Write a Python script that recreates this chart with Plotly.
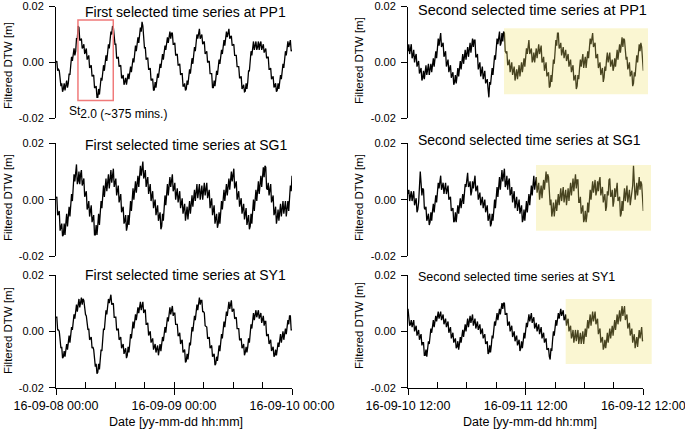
import plotly.graph_objects as go
import pandas as pd

W, H = 685, 430

# ---------------- data (filtered DTW in millimetres, one reading every 10 min) ----------------
first_start = "2016-09-08 00:00"
second_start = "2016-09-10 12:00"
sample_step = "10min"

first_pp1_mm = [
    0.0, 0.5, -3.0, -2.5, -3.0, -8.0, -8.5, -7.5, -10.5, -9.5, -7.5, -10.0,
    -8.0, -6.5, -9.0, -7.5, -4.0, -4.5, -1.0, 2.0, 0.5, 3.5, 5.0, 2.5,
    4.0, 8.5, 8.5, 13.0, 12.5, 8.0, 8.0, 8.5, 5.0, 5.5, 6.5, 3.0,
    4.0, 5.0, 1.0, 2.0, 2.5, -2.0, -1.5, -1.0, -5.0, -4.5, -4.5, -9.0,
    -9.0, -8.5, -12.5, -12.5, -9.5, -11.5, -8.5, -5.5, -6.5, -3.5, -1.0, -3.0,
    -0.5, 2.5, 0.5, 3.5, 6.5, 5.0, 8.0, 11.0, 10.0, 13.0, 12.5, 7.0,
    6.5, 6.5, 1.5, 1.5, 2.0, -1.5, -1.0, -1.0, -5.5, -5.5, -4.5, -8.0,
    -7.0, -5.5, -8.0, -6.5, -4.0, -6.0, -3.5, -1.5, -3.5, -1.5, 1.5, 0.0,
    3.0, 6.0, 4.0, 7.0, 9.0, 7.0, 9.0, 12.5, 11.0, 14.5, 13.0, 6.5,
    5.0, 5.5, 1.0, 1.5, 1.5, -2.5, -2.5, -2.0, -6.5, -6.0, -6.0, -10.0,
    -9.8, -7.0, -9.0, -6.5, -4.0, -5.5, -3.0, -0.5, -2.0, 0.5, 3.0, 1.0,
    3.5, 6.0, 4.5, 7.0, 9.0, 7.0, 9.0, 11.0, 8.5, 10.5, 10.5, 6.5,
    6.5, 7.0, 2.5, 3.0, 3.0, -1.0, -1.0, -0.5, -4.5, -4.0, -4.0, -8.5,
    -8.5, -7.5, -10.0, -9.5, -6.5, -8.0, -5.0, -2.5, -4.0, -1.5, 1.5, -0.5,
    2.5, 5.5, 4.0, 7.0, 10.0, 8.5, 11.5, 12.0, 8.5, 9.5, 10.0, 6.5,
    7.0, 7.5, 3.0, 3.5, 4.0, 0.0, 0.5, 0.5, -4.0, -4.0, -4.0, -9.0,
    -9.0, -6.5, -8.5, -6.0, -3.0, -4.5, -1.5, 1.0, -0.5, 2.0, 4.5, 3.0,
    5.5, 8.0, 6.0, 8.5, 11.0, 9.0, 11.5, 12.0, 8.5, 9.0, 9.5, 6.0,
    6.5, 6.5, 2.5, 2.5, 2.5, -1.5, -1.5, -1.5, -5.5, -5.5, -5.0, -9.5,
    -9.0, -8.0, -10.5, -10.3, -7.5, -9.5, -7.0, -3.0, -3.0, 1.0, 4.0, 2.5,
    5.5, 7.5, 4.5, 6.5, 7.5, 4.5, 5.5, 7.5, 4.5, 6.5, 7.5, 4.5,
    5.5, 6.5, 3.5, 4.5, 5.0, 1.5, 2.0, 2.0, -2.5, -2.5, -2.0, -6.0,
    -5.5, -5.0, -9.0, -8.5, -7.5, -10.5, -10.0, -7.5, -9.5, -7.0, -4.5, -6.0,
    -3.5, -0.5, -2.0, 1.0, 4.0, 2.5, 5.5, 7.5, 5.5, 7.5, 8.0, 4.0,
    4.5]
first_sg1_mm = [
    0.5, 1.0, -5.5, -5.0, -4.0, -11.0, -10.0, -8.5, -13.0, -12.5, -8.5, -12.5,
    -8.5, -5.0, -9.5, -6.0, -2.5, -6.0, -2.5, 2.0, -0.5, 4.0, 9.0, 6.5,
    11.5, 12.5, 5.5, 6.5, 10.0, 5.5, 9.0, 10.5, 5.0, 6.5, 7.5, 1.0,
    2.0, 3.0, -3.5, -2.5, -0.5, -6.0, -4.0, -2.0, -8.0, -6.0, -5.5, -12.5,
    -12.5, -9.0, -12.5, -9.0, -5.0, -9.0, -5.0, -0.5, -3.0, 1.5, 5.0, 1.0,
    4.5, 7.5, 3.0, 6.0, 9.0, 4.0, 7.0, 10.5, 6.0, 9.5, 11.0, 4.5,
    6.0, 7.5, 1.5, 3.0, 5.0, -1.0, 1.0, 2.0, -4.5, -3.5, -2.5, -8.5,
    -7.5, -5.5, -11.0, -9.5, -5.5, -9.0, -5.0, -0.5, -4.0, 0.5, 4.0, 0.0,
    3.5, 6.5, 2.5, 5.5, 8.5, 4.5, 7.5, 12.0, 8.5, 13.0, 13.5, 7.5,
    8.5, 10.5, 4.5, 6.5, 8.0, 2.0, 3.5, 5.5, -0.5, 1.5, 3.0, -3.0,
    -1.5, 0.0, -5.5, -4.0, -2.0, -7.5, -5.5, -4.5, -10.5, -9.5, -5.0, -7.5,
    -3.0, 1.5, -2.0, 2.5, 5.5, 1.5, 4.5, 8.0, 4.5, 8.0, 9.0, 3.0,
    4.0, 6.0, 0.0, 2.0, 4.0, -1.0, 1.0, 3.0, -3.0, -1.0, 0.5, -5.0,
    -3.5, -1.5, -7.5, -5.5, -2.5, -7.0, -4.0, -0.5, -5.0, -1.5, 1.5, -2.5,
    0.5, 3.5, -0.5, 2.5, 5.5, 0.5, 3.5, 5.5, 0.0, 2.0, 5.0, 0.0,
    3.0, 6.0, 1.5, 4.5, 6.0, 0.5, 2.0, 3.5, -3.0, -1.5, 0.5, -5.5,
    -3.5, -2.0, -8.5, -7.0, -5.0, -10.0, -8.5, -4.5, -8.5, -4.5, -0.5, -3.5,
    0.5, 3.5, -0.5, 2.5, 5.5, 1.5, 4.5, 7.5, 3.5, 6.5, 10.0, 6.5,
    10.0, 11.0, 4.0, 5.0, 6.5, 0.0, 1.5, 3.0, -2.5, -1.0, 0.5, -5.0,
    -3.5, -1.5, -7.0, -5.0, -3.0, -9.0, -7.0, -5.5, -10.5, -9.5, -5.0, -8.5,
    -4.0, 0.0, -4.0, 0.0, 3.5, -0.5, 3.0, 6.5, 2.0, 5.5, 8.5, 4.5,
    7.5, 11.5, 8.0, 12.0, 11.5, 4.0, 3.5, 6.0, 1.5, 4.0, 5.5, -1.0,
    0.5, 1.5, -5.5, -4.5, -2.5, -8.5, -6.5, -3.5, -7.5, -4.5, -1.5, -6.0,
    -3.0, -0.5, -5.0, -2.5, -0.5, -6.0, -4.0, -0.5, -4.0, -0.5, 5.0, 3.0,
    8.5]
first_sy1_mm = [
    5.0, 5.0, 0.5, 0.5, 0.0, -5.5, -6.0, -5.5, -9.5, -9.0, -7.0, -9.0,
    -7.0, -4.5, -6.5, -4.0, -1.5, -4.0, -1.5, 1.5, 0.5, 3.5, 6.0, 4.5,
    7.0, 9.5, 7.0, 9.5, 11.5, 8.5, 10.5, 12.0, 9.5, 11.5, 11.0, 6.5,
    6.0, 5.5, 1.0, 0.5, 1.0, -3.0, -2.5, -2.0, -6.0, -5.5, -6.5, -11.5,
    -12.5, -11.5, -15.0, -14.5, -11.5, -13.5, -10.5, -6.5, -7.0, -3.0, 1.0, 0.5,
    4.5, 7.5, 6.0, 9.0, 11.5, 10.0, 12.5, 13.0, 9.5, 10.0, 10.0, 5.0,
    5.0, 5.0, 0.5, 0.5, 1.0, -3.0, -2.5, -2.0, -6.0, -5.5, -4.5, -8.0,
    -7.0, -6.0, -9.5, -8.5, -5.5, -7.5, -4.5, -1.0, -2.5, 1.0, 3.5, 1.0,
    3.5, 6.0, 4.0, 6.5, 8.5, 6.5, 8.5, 10.5, 7.5, 9.5, 10.5, 6.5,
    7.5, 7.5, 2.5, 2.5, 3.0, -1.5, -1.0, 0.0, -4.0, -3.5, -2.5, -6.5,
    -5.5, -4.5, -7.5, -6.5, -5.0, -8.5, -7.0, -4.5, -7.0, -4.5, -2.0, -3.5,
    -1.0, 1.5, -0.5, 2.0, 5.0, 3.5, 6.5, 8.5, 6.0, 8.0, 9.0, 5.5,
    6.5, 6.5, 2.5, 2.5, 2.5, -1.5, -1.5, -0.5, -4.5, -3.5, -3.0, -7.5,
    -7.0, -6.5, -11.0, -10.5, -8.0, -10.0, -7.5, -4.0, -5.0, -1.5, 1.5, 0.0,
    3.0, 5.5, 4.0, 6.5, 9.5, 7.5, 10.5, 12.0, 9.5, 11.0, 11.0, 7.0,
    7.0, 6.5, 2.0, 1.5, 1.5, -2.5, -2.5, -2.0, -6.0, -5.5, -5.0, -9.0,
    -8.5, -8.0, -12.0, -11.5, -9.0, -10.5, -8.0, -5.0, -7.0, -4.0, -1.0, -2.5,
    0.5, 3.5, 1.5, 4.5, 7.0, 5.5, 8.0, 10.5, 8.0, 10.5, 11.0, 7.0,
    7.5, 8.0, 4.5, 5.0, 5.0, 1.0, 1.0, 1.0, -3.0, -3.0, -2.5, -6.0,
    -5.5, -4.5, -8.5, -7.5, -5.5, -7.5, -5.5, -2.5, -4.0, -1.0, 2.5, 1.0,
    4.5, 6.5, 4.0, 6.0, 7.5, 5.0, 6.5, 7.5, 4.5, 5.5, 6.5, 3.0,
    4.0, 5.5, 2.0, 3.5, 3.5, -1.5, -1.5, -1.0, -4.5, -4.0, -3.0, -7.0,
    -6.0, -5.5, -9.0, -8.5, -6.5, -8.5, -6.5, -4.0, -5.5, -3.0, -1.0, -4.0,
    -2.0, 0.0, -3.0, -1.0, 1.0, -1.0, 1.0, 4.0, 2.5, 5.5, 5.5, 0.5,
    0.5]
second_pp1_mm = [
    4.0, 6.5, 3.0, 5.5, 6.5, 1.5, 2.5, 4.5, 0.0, 2.0, 3.0, -1.5,
    -0.5, 0.5, -4.0, -3.0, -2.0, -6.5, -5.5, -3.0, -6.0, -3.5, -1.0, -4.5,
    -2.0, -0.5, -4.5, -3.0, -0.5, -3.5, -1.0, 1.5, -1.5, 1.0, 4.0, 1.5,
    4.5, 8.5, 6.0, 10.0, 10.5, 5.5, 6.0, 7.0, 2.0, 3.0, 4.0, -1.5,
    -0.5, 1.0, -3.5, -2.0, -1.0, -5.5, -4.5, -3.5, -8.0, -7.0, -4.5, -7.5,
    -5.0, -2.0, -5.0, -2.0, 0.5, -2.5, 0.0, 3.0, -0.5, 2.5, 4.5, 1.0,
    3.0, 5.5, 2.0, 4.5, 7.0, 3.5, 6.0, 8.5, 5.5, 8.0, 8.0, 2.0,
    2.0, 3.0, -2.5, -1.5, 0.0, -5.0, -3.5, -1.5, -6.0, -4.0, -3.0, -7.5,
    -6.5, -6.0, -9.5, -12.5, -7.0, -8.0, -5.0, -2.0, -4.5, -1.5, 2.5, 1.0,
    5.0, 8.5, 6.5, 10.0, 11.0, 6.0, 7.0, 10.5, 7.5, 11.0, 10.5, 4.0,
    3.5, 4.0, -1.0, -0.5, 1.0, -3.5, -2.0, 0.0, -4.5, -3.0, -1.5, -6.5,
    -5.0, -2.5, -6.0, -3.5, -1.0, -5.0, -2.5, 0.0, -3.5, -1.0, 1.5, -1.5,
    1.0, 5.0, 3.0, 7.0, 8.0, 3.0, 4.0, 5.0, 0.0, 1.0, 3.5, 0.0,
    2.5, 5.0, 1.5, 4.0, 6.5, 3.0, 5.5, 6.0, 0.0, 0.5, 2.0, -3.0,
    -1.5, 0.0, -5.0, -4.0, -3.5, -9.0, -8.5, -4.5, -7.0, -3.0, 1.0, -0.5,
    3.5, 8.0, 6.0, 10.5, 10.5, 5.0, 5.5, 7.0, 2.5, 4.0, 5.5, 1.5,
    3.0, 4.5, 0.5, 2.0, 3.0, -1.5, -0.5, 1.0, -3.5, -2.0, -1.0, -6.5,
    -5.5, -4.5, -9.5, -8.5, -4.5, -6.0, -2.0, 1.0, -1.5, 1.5, 3.0, -2.0,
    -0.5, 2.0, -2.0, 0.5, 4.0, 1.5, 5.0, 8.5, 6.5, 10.0, 10.5, 5.5,
    6.5, 7.0, 1.5, 2.0, 3.0, -2.0, -1.0, 0.0, -4.5, -3.5, -2.0, -7.0,
    -5.5, -1.5, -3.0, 1.0, 3.5, 0.0, 2.5, 3.5, -1.5, -0.5, 1.0, -3.0,
    -1.5, 1.5, -1.5, 1.5, 4.5, 1.0, 4.0, 6.5, 3.5, 6.0, 9.0, 5.5,
    8.5, 8.0, 1.5, 1.0, 2.0, -2.5, -1.5, 0.0, -5.0, -4.0, -3.0, -8.5,
    -7.5, -3.5, -5.0, -1.0, 2.5, 0.0, 3.5, 6.5, 4.0, 7.0, 5.5, -1.5,
    -3.0]
second_sg1_mm = [
    2.0, 3.5, -0.5, 1.0, 3.0, -0.5, 1.5, 3.0, -2.0, -0.5, 0.5, -4.5,
    -3.5, -1.0, 4.0, 10.0, 6.0, 1.5, 4.0, 3.5, -3.0, -3.5, -2.5, -7.5,
    -6.5, -5.0, -9.0, -8.0, -4.5, -7.5, -4.0, -1.5, -4.5, -2.0, 1.5, -1.0,
    2.5, 6.0, 4.0, 7.5, 8.5, 3.5, 4.5, 6.0, 2.0, 3.5, 6.0, 2.0,
    4.5, 5.0, 0.0, 0.5, 1.0, -4.0, -3.5, -3.0, -8.0, -7.5, -4.5, -8.0,
    -5.0, -2.0, -5.0, -2.0, 0.5, -3.0, -0.5, 2.0, -1.5, 1.0, 5.5, 4.5,
    9.0, 9.5, 4.5, 5.0, 6.5, 1.5, 3.0, 6.5, 4.0, 7.5, 8.5, 3.0,
    4.0, 5.0, 0.0, 1.0, 2.5, -2.0, -0.5, 1.0, -3.0, -1.5, 0.0, -4.5,
    -3.0, -2.0, -7.5, -6.5, -5.0, -9.5, -8.5, -5.0, -7.5, -4.0, 0.0, -3.0,
    1.0, 4.5, 1.0, 4.5, 8.0, 3.5, 7.0, 10.5, 6.5, 10.0, 11.0, 4.5,
    5.5, 8.5, 3.5, 6.5, 7.5, 1.5, 2.5, 4.5, -1.0, 1.0, 3.0, -3.0,
    -1.0, 1.0, -4.0, -2.0, 0.0, -5.0, -3.0, -2.0, -8.0, -7.0, -3.5, -7.5,
    -4.0, -0.5, -4.5, -1.0, 2.0, -2.0, 1.0, 5.0, 1.5, 5.5, 8.5, 3.5,
    6.5, 8.0, 2.5, 4.0, 6.0, 0.0, 2.0, 5.0, 0.5, 3.5, 7.0, 3.5,
    7.0, 10.0, 6.0, 9.0, 8.0, -1.0, -2.0, 0.0, -6.0, -4.0, -1.0, -6.0,
    -3.0, 0.0, -4.0, -1.0, 2.0, -2.0, 1.0, 4.0, -0.5, 2.5, 4.5, -1.0,
    1.0, 3.5, -2.0, 0.5, 4.0, -0.5, 3.0, 6.0, 1.5, 4.5, 7.5, 3.0,
    6.0, 9.0, 4.0, 7.0, 7.0, -1.0, -1.0, 1.0, -5.0, -3.0, -2.0, -8.0,
    -7.0, -4.0, -8.0, -5.5, -1.0, -4.5, 0.0, 3.5, 0.0, 3.5, 6.5, 2.5,
    5.5, 7.0, 1.5, 3.0, 6.5, 3.0, 6.5, 8.0, 1.5, 3.0, 4.5, -1.0,
    0.5, 2.0, -4.0, -2.5, 3.0, 1.5, 7.0, 7.5, 1.0, 1.5, 3.5, -2.5,
    -0.5, 4.0, 1.0, 5.5, 6.0, -0.5, 0.0, 1.0, -6.0, -5.0, -0.5, -4.0,
    0.5, 4.0, -0.5, 3.0, 5.0, -1.0, 1.0, 3.5, -2.0, 0.5, 3.0, 5.0,
    12.0, 5.0, 0.0, 2.5, 6.0, 1.5, 5.0, 8.0, 3.5, 6.5, 5.5, -3.0,
    -4.0]
second_sy1_mm = [
    8.0, 4.0, 2.0, 2.5, 4.0, 1.5, 3.0, 4.0, 0.0, 1.0, 2.0, -1.5,
    -0.5, 0.5, -3.0, -2.0, -1.0, -5.0, -4.0, -4.0, -8.5, -8.5, -6.5, -9.0,
    -6.5, -3.5, -4.5, -1.5, 1.0, -0.5, 2.0, 4.0, 1.5, 3.5, 5.5, 3.5,
    5.5, 7.0, 4.5, 6.5, 7.0, 4.0, 5.0, 6.0, 2.5, 3.5, 4.5, 1.5,
    2.5, 3.5, -0.5, 0.5, 1.5, -2.5, -1.5, -0.5, -4.0, -3.0, -2.5, -6.0,
    -5.5, -3.5, -6.5, -4.5, -2.0, -4.0, -1.5, 0.5, -2.0, 0.0, 2.5, 0.0,
    2.5, 4.5, 1.5, 3.5, 5.5, 3.0, 5.0, 6.0, 2.0, 3.0, 4.5, 1.0,
    2.5, 3.5, 0.5, 1.5, 2.5, -1.0, 0.0, 1.0, -2.5, -1.5, -1.0, -4.5,
    -4.0, -3.5, -8.0, -7.5, -5.0, -7.5, -5.0, -1.5, -2.5, 1.0, 3.5, 2.0,
    4.5, 6.5, 4.0, 6.0, 8.0, 6.0, 8.0, 10.0, 8.0, 10.0, 10.0, 6.0,
    6.0, 6.5, 2.0, 2.5, 3.5, 0.0, 1.0, 2.0, -2.0, -1.0, 0.0, -3.5,
    -2.5, -1.5, -5.0, -4.0, -3.0, -7.0, -6.0, -3.5, -6.0, -3.5, -0.5, -2.5,
    0.5, 3.0, 1.5, 4.0, 6.0, 3.5, 5.5, 6.5, 3.0, 4.0, 5.0, 1.0,
    2.0, 3.0, 0.0, 1.0, 2.5, -1.0, 0.5, 1.5, -2.5, -1.5, -0.5, -4.0,
    -3.0, -2.5, -6.5, -6.0, -6.0, -9.0, -10.0, -6.0, -7.0, -3.0, 0.0, -1.5,
    1.5, 4.0, 2.0, 4.5, 6.5, 4.5, 6.5, 8.0, 5.5, 7.0, 7.5, 4.0,
    4.5, 6.0, 2.0, 3.5, 4.5, 0.0, 1.0, 2.0, -2.5, -1.5, 0.5, -4.0,
    -2.0, 0.5, -3.5, -1.0, 0.5, -4.5, -3.0, -0.5, -4.5, -2.0, 0.0, -4.5,
    -2.5, 1.0, -2.0, 1.5, 4.0, 1.0, 3.5, 6.0, 2.0, 4.5, 7.0, 3.5,
    6.0, 7.0, 2.5, 3.5, 4.5, -1.0, 0.0, 1.0, -4.0, -3.0, -2.0, -6.5,
    -5.5, -3.0, -6.0, -3.5, -0.5, -4.0, -1.0, 1.0, -2.5, -0.5, 2.0, -1.5,
    1.0, 4.0, 0.5, 3.5, 6.0, 2.5, 5.0, 7.5, 3.5, 6.0, 9.0, 5.5,
    8.5, 9.0, 4.0, 5.0, 6.0, 1.0, 2.0, 3.0, -1.5, -0.5, 1.0, -4.0,
    -2.5, -1.0, -6.0, -4.5, -2.0, -5.5, -3.0, 0.5, -2.5, 1.0, 1.5, -3.5,
    -3.0]

panel_titles = [
    "First selected time series at PP1", "Second selected time series at PP1",
    "First selected time series at SG1", "Second selected time series at SG1",
    "First selected time series at SY1", "Second selected time series at SY1",
]
y_tick_vals = [-0.02, 0.0, 0.02]
y_tick_text = ["-0.02", "0.00", "0.02"]
y_title = "Filtered DTW [m]"
x_title = "Date [yy-mm-dd hh:mm]"

# highlighted windows (layout decorations)
red_box = ["2016-09-08 04:28", "2016-09-08 11:39", -0.0136, 0.0152]
yellow_boxes_px = [  # x0, x1, y_top, y_bottom in pixels
    (504, 648, 28.3, 94.3),
    (536, 651, 165, 230.7),
    (565.7, 651.7, 299, 364),
]

# ---------------- layout geometry ----------------
def px(x):
    return x / W

def py(y):
    return 1 - y / H

left_dom = [px(56), px(292)]
right_dom = [px(408), px(643.3)]
row_dom = [
    [py(118.3), py(6.5)],
    [py(256.0), py(143.3)],
    [py(387.7), py(275.0)],
]

series = [first_pp1_mm, second_pp1_mm, first_sg1_mm, second_sg1_mm, first_sy1_mm, second_sy1_mm]
starts = [first_start, second_start] * 3

FONT = "Liberation Sans, Arial, sans-serif"
fig = go.Figure()
for k, vals in enumerate(series):
    t = pd.date_range(starts[k], periods=len(vals), freq=sample_step)
    sfx = "" if k == 0 else str(k + 1)
    fig.add_trace(go.Scatter(
        x=t, y=[v / 1000 for v in vals], mode="lines",
        line=dict(color="black", width=1.3),
        xaxis="x" + sfx, yaxis="y" + sfx, showlegend=False, hoverinfo="skip"))

layout = dict(
    width=W, height=H, margin=dict(l=0, r=0, t=0, b=0, autoexpand=False),
    paper_bgcolor="white", plot_bgcolor="white",
    font=dict(family=FONT, color="black", size=11),
    showlegend=False,
)

for k in range(6):
    row, col = k // 2, k % 2
    sfx = "" if k == 0 else str(k + 1)
    start = pd.Timestamp(starts[k])
    end = start + pd.Timedelta(hours=48)
    bottom = row == 2
    xa = dict(
        domain=left_dom if col == 0 else right_dom,
        range=[start, end], type="date", anchor="y" + sfx,
        showgrid=False, zeroline=False, fixedrange=True, automargin=False,
    )
    if bottom:
        xa.update(
            showline=True, linecolor="black", linewidth=1,
            ticks="outside", ticklen=6, tickwidth=1, tickcolor="black",
            tick0=start, dtick=24 * 3600 * 1000,
            tickformat="%y-%m-%d %H:%M", ticklabeloverflow="allow",
            tickfont=dict(size=12.5, family=FONT, color="black"),
        )
    else:
        xa.update(visible=False)
    layout["xaxis" + sfx] = xa
    layout["yaxis" + sfx] = dict(
        domain=row_dom[row], range=[-0.02, 0.02], anchor="x" + sfx,
        showline=True, linecolor="black", linewidth=1,
        ticks="outside", ticklen=6, tickwidth=1, tickcolor="black",
        tickvals=y_tick_vals, ticktext=y_tick_text,
        tickfont=dict(size=11, family=FONT, color="black"),
        ticklabelstandoff=3, automargin=False,
        showgrid=False, zeroline=False, fixedrange=True,
    )

# overlay axes that draw the inner (6-hourly) ticks of the bottom date axes
for k, base in [(7, 5), (8, 6)]:
    start = pd.Timestamp(starts[base - 1])
    end = start + pd.Timedelta(hours=48)
    layout["xaxis%d" % k] = dict(
        domain=left_dom if base == 5 else right_dom, range=[start, end], type="date",
        overlaying="x%d" % base, anchor="y%d" % base, automargin=False,
        showline=False, showgrid=False, zeroline=False,
        ticks="inside", ticklen=6, tickwidth=1, tickcolor="black",
        tick0=start, dtick=6 * 3600 * 1000, showticklabels=False,
    )
    fig.add_trace(go.Scatter(x=[start], y=[None], mode="lines",
                             xaxis="x%d" % k, yaxis="y%d" % base,
                             showlegend=False, hoverinfo="skip"))

fig.update_layout(**layout)

# ---------------- text ----------------
title_pos = [(83, 12, 14), (416, 10, 14.5), (83, 145, 14), (416, 140, 14), (83, 275, 14), (416, 277, 12.5)]
for k, (x0, yc, fs) in enumerate(title_pos):
    fig.add_annotation(text=panel_titles[k], xref="paper", yref="paper",
                       x=px(x0), y=py(yc), xanchor="left", yanchor="middle",
                       showarrow=False, font=dict(size=fs, family=FONT, color="black"))

for xc, yc in [(8, 66), (8, 198), (8, 331), (359, 61), (359, 198), (359, 326)]:
    fig.add_annotation(text=y_title, xref="paper", yref="paper",
                       x=px(xc), y=py(yc), xanchor="center", yanchor="middle",
                       textangle=-90, showarrow=False,
                       font=dict(size=11.5, family=FONT, color="black"))

for xc in [176, 530]:
    fig.add_annotation(text=x_title, xref="paper", yref="paper",
                       x=px(xc), y=py(422), xanchor="center", yanchor="middle",
                       showarrow=False, font=dict(size=12.5, family=FONT, color="black"))

fig.add_annotation(text="St<sub><span style='font-size:12px'>2.0 (~375 mins.)</span></sub>",
                   xref="paper", yref="paper", x=px(67), y=py(112),
                   xanchor="left", yanchor="middle", showarrow=False,
                   font=dict(size=12, family=FONT, color="black"))

# ---------------- shapes ----------------
fig.add_shape(type="rect", xref="x", yref="y",
              x0=red_box[0], x1=red_box[1], y0=red_box[2], y1=red_box[3],
              line=dict(color="#f07a7a", width=1.5), fillcolor="rgba(0,0,0,0)", layer="above")
for (x0, x1, y0, y1) in yellow_boxes_px:
    fig.add_shape(type="rect", xref="paper", yref="paper",
                  x0=px(x0), x1=px(x1), y0=py(y1), y1=py(y0),
                  line=dict(width=0), fillcolor="rgba(238,225,105,0.3)", layer="above")

fig.write_html("out.html", config={"displayModeBar": False, "staticPlot": True},
               post_script="document.body.style.margin='0px';")
